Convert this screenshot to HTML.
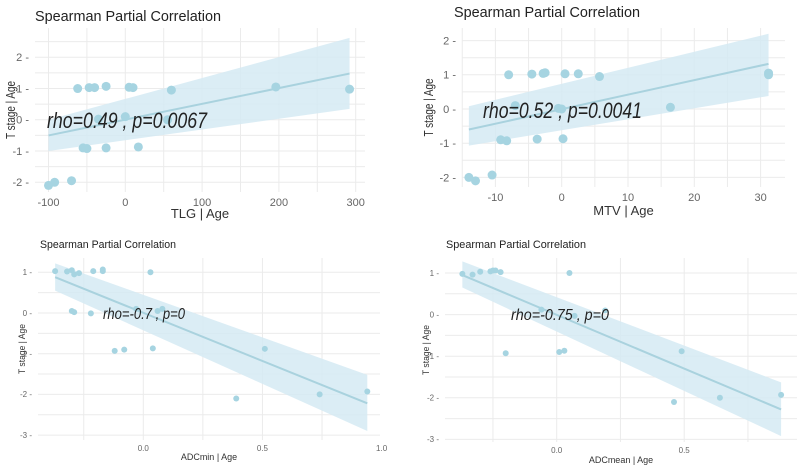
<!DOCTYPE html>
<html><head><meta charset="utf-8">
<style>
html,body{margin:0;padding:0;background:#fff;}
svg{display:block;font-family:"Liberation Sans",sans-serif;}
</style></head>
<body>
<svg id="chart" width="799" height="470" viewBox="0 0 799 470" xmlns="http://www.w3.org/2000/svg"></svg>
<script>
// ---- Panel 1: TLG ----
const p1X = [-100,-92,-70,-62,-47,-40,-25,5,10,60,196,292,-55,-50,-25,17,0,55,-35];
const p1Y = [-2.1,-2.0,-1.95,1.0,1.03,1.03,1.07,1.04,1.03,0.95,1.05,0.98,-0.9,-0.92,-0.9,-0.87,0.1,0.0,0.02];
const p1XTicks = [-100,0,100,200,300];
const p1YTicks = [-2,-1,0,1,2];
const p1Fit = [[-100,-0.5],[292,1.48]];
const p1Band = [[-100,-1.0,0.0],[292,0.35,2.62]];
// ---- Panel 2: MTV ----
const p2X = [-14,-13,-10.5,-8,-4.5,-2.8,-2.5,0.5,2.5,5.7,31.2,31.2,-9.2,-8.3,-3.7,0.2,16.4,-7,-0.5,0];
const p2Y = [-2,-2.1,-1.93,1,1.02,1.04,1.06,1.03,1.03,0.95,1.0,1.05,-0.9,-0.93,-0.88,-0.87,0.05,0.1,0.02,0];
const p2XTicks = [-10,0,10,20,30];
const p2YTicks = [-2,-1,0,1,2];
const p2Fit = [[-14,-0.6],[31.2,1.32]];
const p2Band = [[-14,-1.07,0.08],[31.2,0.38,2.2]];
// ---- Panel 3: ADCmin ----
const p3X = [-0.37,-0.32,-0.30,-0.29,-0.27,-0.21,-0.17,-0.17,0.03,-0.30,-0.29,-0.22,-0.12,-0.08,0.04,-0.03,0.06,0.08,0.39,0.51,0.74,0.94];
const p3Y = [1.03,1.02,1.05,0.95,0.98,1.03,1.03,1.07,1.0,0.05,0.02,-0.01,-0.93,-0.9,-0.87,0.1,0.05,0.1,-2.1,-0.88,-2.0,-1.93];
const p3XTicks = [0,0.5,1];
const p3XLabels = ["0.0","0.5","1.0"];
const p3YTicks = [-3,-2,-1,0,1];
const p3Fit = [[-0.37,0.88],[0.94,-2.22]];
const p3Band = [[-0.37,0.55,1.22],[0.94,-2.9,-1.52]];
// ---- Panel 4: ADCmean ----
const p4X = [-0.37,-0.33,-0.30,-0.26,-0.25,-0.24,-0.22,0.05,-0.2,0.01,0.03,0.19,0.07,-0.06,0.46,0.49,0.64,0.88];
const p4Y = [0.98,0.96,1.03,1.04,1.06,1.06,1.02,1.0,-0.93,-0.9,-0.87,0.1,-0.03,0.12,-2.1,-0.88,-2.0,-1.93];
const p4XTicks = [0,0.5];
const p4XLabels = ["0.0","0.5"];
const p4YTicks = [-3,-2,-1,0,1];
const p4Fit = [[-0.37,0.95],[0.88,-2.28]];
const p4Band = [[-0.37,0.65,1.28],[0.88,-2.92,-1.63]];

const NS = "http://www.w3.org/2000/svg";
const svg = document.getElementById("chart");
function mk(tag, attrs, parent, text){
  const e = document.createElementNS(NS, tag);
  for (const k in attrs) e.setAttribute(k, attrs[k]);
  if (text !== undefined) e.textContent = text;
  (parent||svg).appendChild(e);
  return e;
}
const PT = "#a6d4e1", LN = "#a9d2de", BAND = "#d5eaf3", GRID = "#ebebeb";

function panel(cfg){
  const g = mk("g", {});
  
  
  const sx = v => cfg.x0 + v * cfg.kx;
  const sy = v => cfg.y0 - v * cfg.ky;
  const xs = cfg.xt, ys = cfg.yt;
  const xstep = xs[1]-xs[0], ystep = ys[1]-ys[0];
  for (let v = xs[0]-xstep*2; v <= xs[xs.length-1]+xstep*2; v += xstep/2){
    const px = sx(v); if (px < cfg.L || px > cfg.R) continue;
    const l = mk("line", {x1:px,x2:px,y1:cfg.T,y2:cfg.B,stroke:GRID,"stroke-width":1}, g);
     
  }
  for (let v = ys[0]-ystep*2; v <= ys[ys.length-1]+ystep*2; v += ystep/2){
    const py = sy(v); if (py < cfg.T || py > cfg.B) continue;
    const l = mk("line", {x1:cfg.L,x2:cfg.R,y1:py,y2:py,stroke:GRID,"stroke-width":1}, g);
     
  }
  const b = cfg.band;
  const band = mk("polygon", {points:`${sx(b[0][0])},${sy(b[0][1])} ${sx(b[1][0])},${sy(b[1][1])} ${sx(b[1][0])},${sy(b[1][2])} ${sx(b[0][0])},${sy(b[0][2])}`, fill:BAND, opacity:0.85}, g);
   
  const fl = mk("line", {x1:sx(cfg.fit[0][0]),y1:sy(cfg.fit[0][1]),x2:sx(cfg.fit[1][0]),y2:sy(cfg.fit[1][1]),stroke:LN,"stroke-width":2}, g);
   
  cfg.px.forEach((v,i)=>{
    const c = mk("circle",{cx:sx(v),cy:sy(cfg.py[i]),r:cfg.r,fill:PT}, g);
     
  });
  xs.forEach((v,i)=>{
    const t = mk("text",{x:sx(v),y:cfg.B+cfg.tfs+3,"font-size":cfg.tfs,fill:"#666","text-anchor":"middle"}, g, cfg.xl ? cfg.xl[i] : String(v));
     
  });
  ys.forEach(v=>{
    const t = mk("text",{x:cfg.L-6,y:sy(v)+cfg.tfs*0.35,"font-size":cfg.tfs,fill:"#666","text-anchor":"end"}, g, String(v)+" -");
     
  });
  const tt = mk("text",{x:cfg.tx,y:cfg.ty,"font-size":cfg.tsz,fill:"#222",textLength:cfg.tlen,lengthAdjust:"spacingAndGlyphs"}, g, "Spearman Partial Correlation");
   
  const xl = mk("text",{x:(cfg.L+cfg.R)/2,y:cfg.xly,"font-size":cfg.lfs,fill:"#333","text-anchor":"middle"}, g, cfg.xlab);
   
  const yl = mk("text",{x:0,y:0,"font-size":cfg.lfs,fill:"#333","text-anchor":"middle",textLength:cfg.ylen,lengthAdjust:"spacingAndGlyphs",transform:`translate(${cfg.ylx},${(cfg.T+cfg.B)/2}) rotate(-90)`}, g, "T stage | Age");
   
  const an = mk("text",{x:cfg.ax,y:cfg.ay,"font-size":cfg.afs,"font-style":"italic",fill:"#222",textLength:cfg.alen,lengthAdjust:"spacingAndGlyphs"}, g, cfg.ann);
   
}

panel({name:"panel-tlg",px:p1X,py:p1Y,xt:p1XTicks,yt:p1YTicks,fit:p1Fit,band:p1Band,
  x0:125.3,kx:0.768,y0:119.8,ky:31.25,L:35,R:365,T:28,B:192,r:4.5,tfs:11,
  tx:35,ty:21,tsz:15,tlen:186,xlab:"TLG | Age",xly:218,lfs:13,ylx:15,ylen:58,ax:47,ay:128,afs:22,alen:160,ann:"rho=0.49 , p=0.0067"});
panel({name:"panel-mtv",px:p2X,py:p2Y,xt:p2XTicks,yt:p2YTicks,fit:p2Fit,band:p2Band,
  x0:561.7,kx:6.63,y0:109,ky:34.2,L:462,R:785,T:28,B:187,r:4.5,tfs:11,
  tx:454,ty:17,tsz:15,tlen:186,xlab:"MTV | Age",xly:215,lfs:13,ylx:433,ylen:58,ax:483,ay:118,afs:22,alen:159,ann:"rho=0.52 , p=0.0041"});
panel({name:"panel-adcmin",px:p3X,py:p3Y,xt:p3XTicks,xl:p3XLabels,yt:p3YTicks,fit:p3Fit,band:p3Band,
  x0:143.3,kx:238.3,y0:313,ky:40.7,L:38,R:380,T:258,B:440,r:3,tfs:8,
  tx:40,ty:248,tsz:11,tlen:136,xlab:"ADCmin | Age",xly:460,lfs:9,ylx:25,ylen:50,ax:103,ay:319,afs:16,alen:82,ann:"rho=-0.7 , p=0"});
panel({name:"panel-adcmean",px:p4X,py:p4Y,xt:p4XTicks,xl:p4XLabels,yt:p4YTicks,fit:p4Fit,band:p4Band,
  x0:556.7,kx:255,y0:314.6,ky:41.6,L:445,R:797,T:258,B:442,r:3,tfs:8,
  tx:446,ty:248,tsz:11,tlen:140,xlab:"ADCmean | Age",xly:463,lfs:9,ylx:429,ylen:50,ax:511,ay:320,afs:16,alen:98,ann:"rho=-0.75 , p=0"});
</script>
</body></html>
